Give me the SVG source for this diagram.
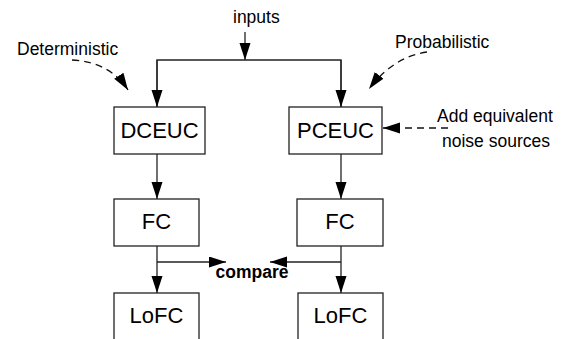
<svg xmlns="http://www.w3.org/2000/svg" width="566" height="339" viewBox="0 0 566 339">
<style>
.box{fill:#fff;stroke:#222;stroke-width:1.3}
.ln{fill:none;stroke:#222;stroke-width:1.3}
.dash{fill:none;stroke:#111;stroke-width:1.3;stroke-dasharray:7,5}
.lbl{font-family:"Liberation Sans",Arial,sans-serif;font-size:22px;fill:#000;text-anchor:middle}
.t{font-family:"Liberation Sans",Arial,sans-serif;font-size:17.5px;fill:#000}
.b{font-weight:bold}
</style>
<defs>
<marker id="ah" markerUnits="userSpaceOnUse" markerWidth="18" markerHeight="12" refX="17" refY="5.5" orient="auto">
<path d="M0,0 L17,5.5 L0,11 z" fill="#000"/>
</marker>
</defs>
<rect width="566" height="339" fill="#fff"/>
<g id="connectors">
<line class="ln" x1="245" y1="32" x2="245" y2="60" marker-end="url(#ah)"/>
<polyline class="ln" points="157,107 157,60 341,60 341,107"/>
<line class="ln" x1="157" y1="60" x2="157" y2="107" marker-end="url(#ah)"/>
<line class="ln" x1="341" y1="60" x2="341" y2="107" marker-end="url(#ah)"/>
<line class="ln" x1="157" y1="154" x2="157" y2="199" marker-end="url(#ah)"/>
<line class="ln" x1="341" y1="154" x2="341" y2="199" marker-end="url(#ah)"/>
<line class="ln" x1="157" y1="246" x2="157" y2="293" marker-end="url(#ah)"/>
<line class="ln" x1="341" y1="246" x2="341" y2="293" marker-end="url(#ah)"/>
<line class="ln" x1="157" y1="262" x2="226" y2="262" marker-end="url(#ah)"/>
<line class="ln" x1="341" y1="262" x2="270" y2="262" marker-end="url(#ah)"/>
<path class="dash" d="M72,60 Q110,62 128,90" marker-end="url(#ah)"/>
<path class="dash" d="M427,52 Q393,57 369,89" marker-end="url(#ah)"/>
<line class="dash" x1="448" y1="128" x2="383" y2="128" marker-end="url(#ah)"/>
</g>
<g id="dceuc"><rect class="box" x="114" y="107" width="91" height="47"/><text class="lbl" x="159.5" y="138">DCEUC</text></g>
<g id="pceuc"><rect class="box" x="289" y="107" width="93" height="47"/><text class="lbl" x="335.5" y="138">PCEUC</text></g>
<g id="fc1"><rect class="box" x="114" y="199" width="85" height="47"/><text class="lbl" x="156.5" y="229">FC</text></g>
<g id="fc2"><rect class="box" x="297" y="199" width="86" height="47"/><text class="lbl" x="340" y="229">FC</text></g>
<g id="lofc1"><rect class="box" x="114" y="293" width="85" height="60"/><text class="lbl" x="156.5" y="323">LoFC</text></g>
<g id="lofc2"><rect class="box" x="298" y="293" width="85" height="60"/><text class="lbl" x="340.5" y="323">LoFC</text></g>
<g id="labels">
<text class="t" x="233" y="23">inputs</text>
<text class="t" x="17" y="55">Deterministic</text>
<text class="t" x="395" y="48">Probabilistic</text>
<text class="t" x="437" y="122">Add equivalent</text>
<text class="t" x="442" y="147">noise sources</text>
<text class="t b" x="252" y="278" text-anchor="middle">compare</text>
</g>
</svg>
